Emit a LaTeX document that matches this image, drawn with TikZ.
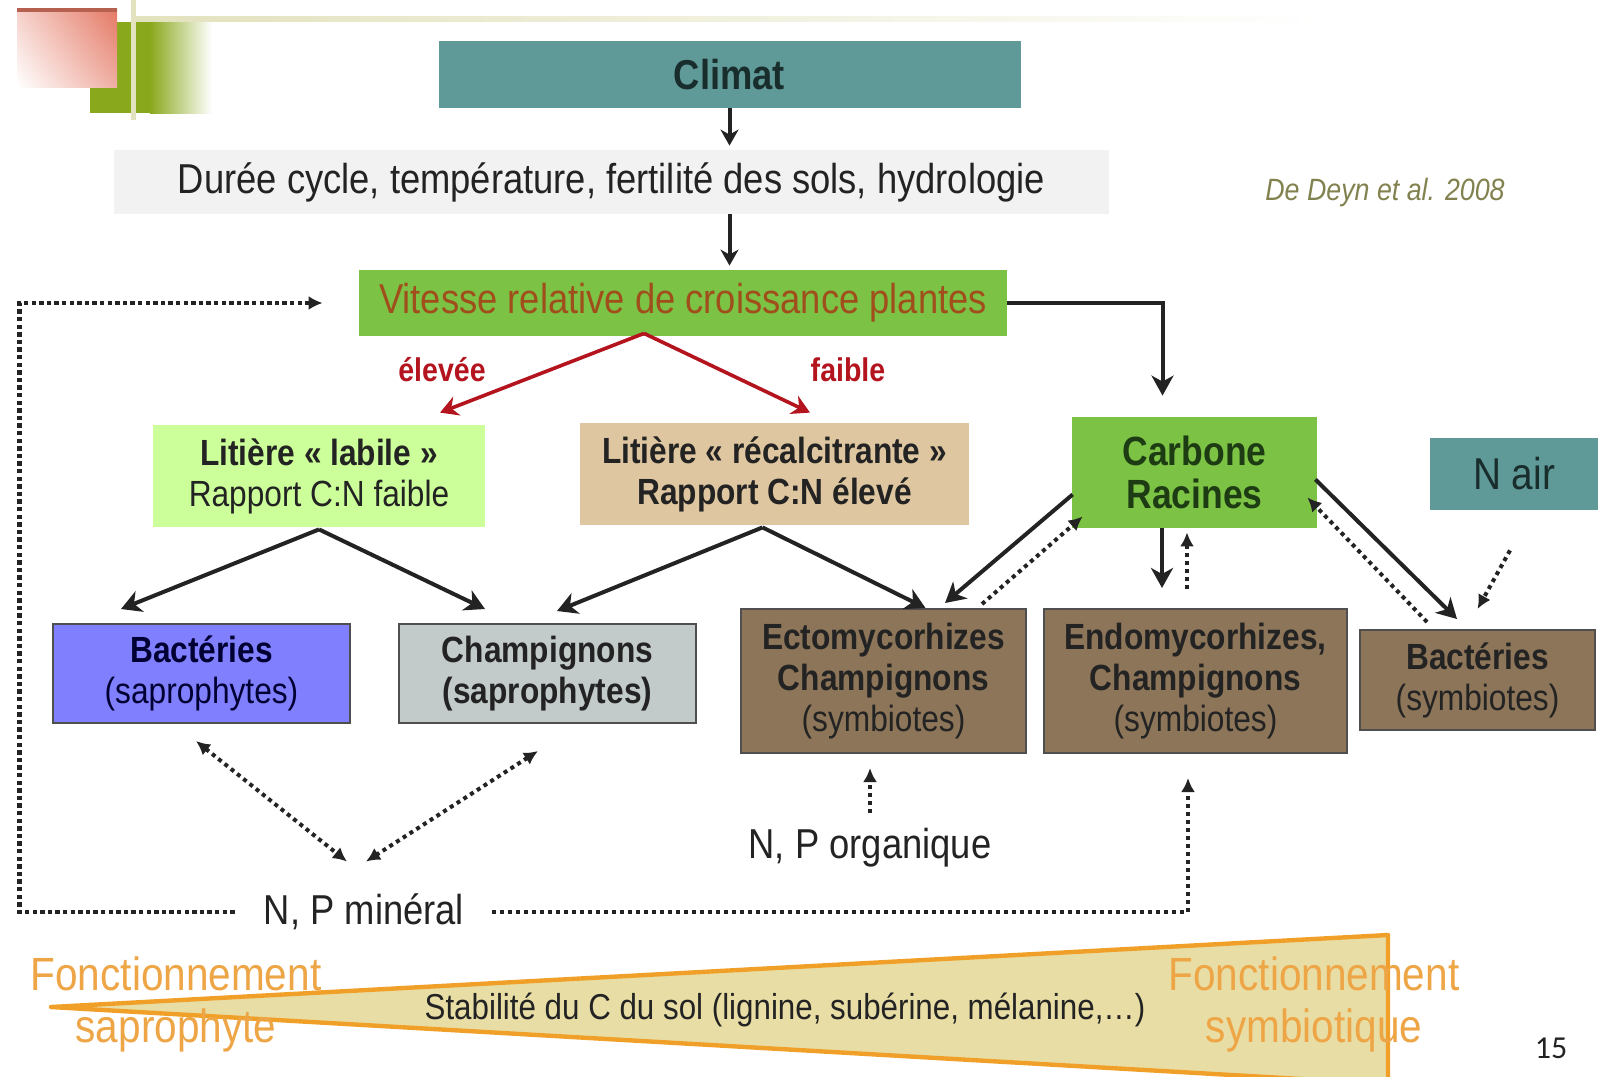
\documentclass[tikz,border=0pt]{standalone}
\usepackage{fontspec}
\setmainfont{Liberation Sans}[FakeStretch=0.87]
\newfontfamily\pagefont{Carlito}
\usepackage{xcolor}
\usetikzlibrary{arrows.meta,positioning,shadings}
\definecolor{tealC}{RGB}{96,154,152}
\definecolor{greyC}{RGB}{242,242,242}
\definecolor{vertC}{RGB}{124,194,68}
\definecolor{vitC}{RGB}{160,78,28}
\definecolor{labC}{RGB}{204,255,153}
\definecolor{recC}{RGB}{222,198,160}
\definecolor{bleuC}{RGB}{128,128,255}
\definecolor{champC}{RGB}{194,202,202}
\definecolor{brunC}{RGB}{140,117,88}
\definecolor{txtC}{RGB}{35,35,35}
\definecolor{carbC}{RGB}{30,60,20}
\definecolor{climC}{RGB}{25,45,45}
\definecolor{rougeC}{RGB}{180,20,30}
\definecolor{deynC}{RGB}{130,130,80}
\definecolor{orC}{RGB}{238,165,70}
\definecolor{bordC}{RGB}{240,160,40}
\definecolor{triC}{RGB}{232,222,165}
\definecolor{olivC}{RGB}{138,168,28}
\definecolor{saumC}{RGB}{228,120,100}
\definecolor{filetC}{RGB}{226,226,190}

\begin{document}
\begin{tikzpicture}[x=0.5pt,y=-0.5pt,
  box/.style={inner sep=0pt,align=center,text=txtC,font=\fontsize{18.2}{20.5}\selectfont},
  edged/.style={box,draw=txtC!80,line width=1pt},
  big/.style={inner sep=0pt,align=center,text=txtC,font=\fontsize{20.9}{23}\selectfont},
  fonct/.style={inner sep=0pt,align=center,text=orC,font=\fontsize{23.3}{26}\selectfont},
  arr/.style={-{Stealth[length=10pt,width=11pt,inset=3pt]},line width=2pt,draw=txtC},
  smallarr/.style={-{Stealth[length=8pt,width=9pt,inset=2.5pt]},line width=2pt,draw=txtC},
  redarr/.style={-{Stealth[length=9pt,width=10pt,inset=3pt]},line width=1.8pt,draw=rougeC},
  dotarr/.style={-{Latex[length=7pt,width=7pt]},line width=2pt,dotted,draw=txtC},
  dbldot/.style={dotarr,{Latex[length=7pt,width=7pt]}-{Latex[length=7pt,width=7pt]}},
  retour/.style={-{Latex[length=7pt,width=7pt]},line width=2.4pt,dash pattern=on 2.2pt off 1.6pt,draw=txtC}
]
\useasboundingbox (0,0) rectangle (1598,1076);
\fill[olivC] (90,22) rectangle (150,113);
\shade[left color=olivC,right color=white] (150,22) rectangle (212,113);
\shade[upper left=saumC!35!white,upper right=saumC,lower left=white,lower right=saumC!60!white] (17,8) rectangle (117,87);
\fill[saumC!80!black] (17,8) rectangle (117,12);
\fill[filetC] (131,0) rectangle (136,120);
\shade[left color=filetC,right color=white] (136,16) rectangle (1320,21);

\node[big,fill=tealC,text=climC,minimum width=291pt,minimum height=33.5pt] (climat) at (729.5,74.5) {\textbf{Climat}};
\node[big,fill=greyC,minimum width=497.5pt,minimum height=32pt] (duree) at (611.5,182) {Durée cycle, température, fertilité des sols, hydrologie};
\node[big,fill=vertC,text=vitC,minimum width=324pt,minimum height=33pt] (vitesse) at (683,303) {Vitesse relative de croissance plantes};
\node[inner sep=0pt,text=deynC,font=\fontsize{15.4}{17}\selectfont\itshape] (deyn) at (1385,193) {De Deyn et al. 2008};
\node[inner sep=0pt,text=rougeC,font=\fontsize{16.4}{18}\selectfont\bfseries] (eleve) at (442,370) {élevée};
\node[inner sep=0pt,text=rougeC,font=\fontsize{16.4}{18}\selectfont\bfseries] (faible) at (848,370) {faible};

\node[box,fill=labC,minimum width=166pt,minimum height=51pt] (labile) at (319,476) {\textbf{Litière « labile »}\\Rapport C:N faible};
\node[box,fill=recC,minimum width=194.5pt,minimum height=51pt] (recalc) at (774.5,474) {\textbf{Litière « récalcitrante »}\\\textbf{Rapport C:N élevé}};
\node[box,fill=vertC,text=carbC,minimum width=122.5pt,minimum height=55.5pt,font=\fontsize{20.4}{21.5}\selectfont\bfseries] (carbone) at (1194.5,472.5) {Carbone\\Racines};
\node[big,fill=tealC,text=climC,minimum width=84pt,minimum height=36pt,font=\fontsize{22.3}{24}\selectfont] (nair) at (1514,474) {N air};

\node[edged,fill=bleuC,text=black!80!blue,minimum width=148.5pt,minimum height=49.5pt] (bactsap) at (201.5,673.5) {\textbf{Bactéries}\\(saprophytes)};
\node[edged,fill=champC,minimum width=148.5pt,minimum height=49.5pt] (champsap) at (547.5,673.5) {\textbf{Champignons}\\\textbf{(saprophytes)}};
\node[edged,fill=brunC,minimum width=142.5pt,minimum height=72pt] (ecto) at (883.5,681) {\textbf{Ectomycorhizes}\\\textbf{Champignons}\\(symbiotes)};
\node[edged,fill=brunC,minimum width=151.5pt,minimum height=72pt] (endo) at (1195.5,681) {\textbf{Endomycorhizes,}\\\textbf{Champignons}\\(symbiotes)};
\node[edged,fill=brunC,minimum width=117.5pt,minimum height=50pt] (bactsym) at (1477.5,680) {\textbf{Bactéries}\\(symbiotes)};

\node[big] (nporg) at (870,848) {N, P organique};
\node[big] (npmin) at (364,912) {N, P minéral};

\filldraw[fill=triC,draw=bordC,line width=2.2pt,line join=round] (51,1007) -- (1388,935) -- (1388,1084) -- cycle;
\node[box,font=\fontsize{18}{20}\selectfont] (stab) at (785,1010) {Stabilité du C du sol (lignine, subérine, mélanine,…)};
\node[fonct] (fsap) at (176,1004) {Fonctionnement\\saprophyte};
\node[fonct] (fsym) at (1314,1004) {Fonctionnement\\symbiotique};
\node[inner sep=0pt,text=txtC,font=\pagefont\fontsize{16}{19}\selectfont] (page) at (1551,1048) {15};

\draw[smallarr] (climat.south) -- ([yshift=2pt]climat.south |- duree.north);
\draw[smallarr] (climat.south |- duree.south) -- ([yshift=2pt]climat.south |- vitesse.north);
\draw[redarr] ([shift={(-39,-3)}]vitesse.south) -- ([shift={(121,-12)}]labile.north);
\draw[redarr] ([shift={(-39,-3)}]vitesse.south) -- ([shift={(35.5,-10)}]recalc.north);
\draw[arr] (vitesse.east) -| ([shift={(-32,-21)}]carbone.north);
\draw[arr] ([yshift=-1pt]labile.south) -- ([shift={(-80.5,-14)}]bactsap.north);
\draw[arr] ([yshift=-1pt]labile.south) -- ([shift={(-62.5,-14)}]champsap.north);
\draw[arr] ([shift={(-12,2)}]recalc.south) -- ([shift={(9.5,-12)}]champsap.north);
\draw[arr] ([shift={(-12,2)}]recalc.south) -- ([shift={(42,0)}]ecto.north);
\draw[arr] ([shift={(1,22)}]carbone.west) -- ([shift={(61.5,-5)}]ecto.north);
\draw[dotarr] ([shift={(98.5,-4)}]ecto.north) -- ([shift={(11,44)}]carbone.west);
\draw[arr] ([xshift=-16.25pt]carbone.south) -- ([shift={(-33.5,-20)}]endo.north);
\draw[dotarr] ([shift={(-8.5,-19)}]endo.north) -- ([shift={(-7.5,4)}]carbone.south);
\draw[arr] ([shift={(-2,7)}]carbone.east) -- ([shift={(-20.5,-10)}]bactsym.north);
\draw[dotarr] ([shift={(-50.5,-7)}]bactsym.north) -- ([shift={(-10,25)}]carbone.east);
\draw[dotarr] ([shift={(-4,40)}]nair.south) -- ([shift={(0,-20)}]bactsym.north);
\draw[dbldot] ([shift={(-5.5,17)}]bactsap.south) -- ([shift={(-17,-32)}]npmin.north);
\draw[dbldot] ([shift={(-9.5,27)}]champsap.south) -- ([shift={(2,-32)}]npmin.north);
\draw[dotarr] ([yshift=7.5pt]nporg.north) -- ([shift={(-13.5,14)}]ecto.south);
\draw[dotarr] ([xshift=14pt]npmin.east) -| ([shift={(-7.5,24)}]endo.south);
\draw[retour] ([xshift=-14.5pt]npmin.west) -- ++(-215,0) |- ([xshift=-18pt]vitesse.west);
\end{tikzpicture}
\end{document}
